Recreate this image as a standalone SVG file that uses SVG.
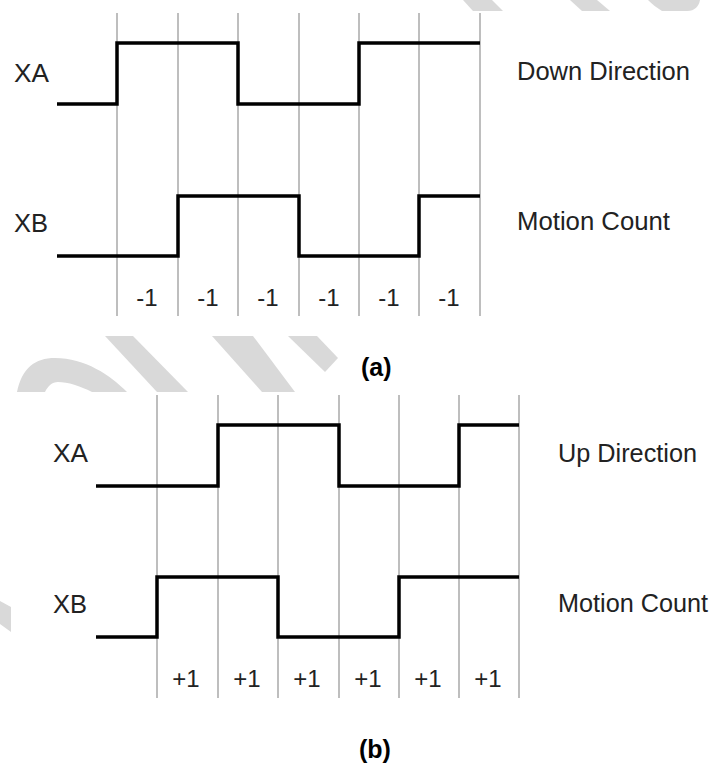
<svg xmlns="http://www.w3.org/2000/svg" width="713" height="765" viewBox="0 0 713 765">
<style>
.wm{fill:#d9d9d9;stroke:none}
.grid{stroke:#a8a8a8;stroke-width:1.5;fill:none}
.sig{stroke:#000;stroke-width:3.5;fill:none;stroke-linejoin:miter;stroke-linecap:butt}
.lbl{font-family:"Liberation Sans",Arial,sans-serif;font-size:25px;fill:#222}
.cnt{font-family:"Liberation Sans",Arial,sans-serif;font-size:24px;fill:#222;text-anchor:middle}
.cap{font-family:"Liberation Sans",Arial,sans-serif;font-size:25px;font-weight:bold;fill:#000}
</style>
<rect width="713" height="765" fill="#fff"/>
<g id="watermark">
<polygon class="wm" points="463,0 492,0 503,11 473,11"/>
<polygon class="wm" points="570,0 597,0 610,11 582,11"/>
<path class="wm" d="M648,0 L700,0 C699,6 695,11 687,11 L662,11 C657,8 652,4 648,0 Z"/>
<path class="wm" d="M17,392 C22,368 35,358 55,358 C85,358 110,375 127,392 L92,392 C80,386 68,382 58,382 C52,382 48,386 45,392 Z"/>
<polygon class="wm" points="105,336 133,336 188,392 157,392"/>
<polygon class="wm" points="212,336 253,336 295,392 262,392"/>
<polygon class="wm" points="288,336 317,336 338,358 325,372"/>
<polygon class="wm" points="0,601 11,607 11,632 0,624"/>
</g>
<g id="diagram-a">
<g id="grid-a">
<line class="grid" x1="117" y1="13" x2="117" y2="316"/>
<line class="grid" x1="178" y1="13" x2="178" y2="316"/>
<line class="grid" x1="238" y1="13" x2="238" y2="316"/>
<line class="grid" x1="299" y1="13" x2="299" y2="316"/>
<line class="grid" x1="359" y1="13" x2="359" y2="316"/>
<line class="grid" x1="419" y1="13" x2="419" y2="316"/>
<line class="grid" x1="480" y1="13" x2="480" y2="316"/>
</g>
<g id="xa-a"><path class="sig" d="M57,104 H117 V43 H238 V104 H359 V43 H480"/><text class="lbl" x="14" y="82" textLength="35" lengthAdjust="spacingAndGlyphs">XA</text></g>
<g id="xb-a"><path class="sig" d="M57,256 H178 V196 H299 V256 H419 V196 H480"/><text class="lbl" x="14" y="232" textLength="34" lengthAdjust="spacingAndGlyphs">XB</text></g>
<text class="lbl" x="517" y="80" textLength="173" lengthAdjust="spacingAndGlyphs">Down Direction</text>
<text class="lbl" x="517" y="230" textLength="153" lengthAdjust="spacingAndGlyphs">Motion Count</text>
<g id="counts-a">
<text class="cnt" x="147" y="306">-1</text>
<text class="cnt" x="208" y="306">-1</text>
<text class="cnt" x="268" y="306">-1</text>
<text class="cnt" x="329" y="306">-1</text>
<text class="cnt" x="389" y="306">-1</text>
<text class="cnt" x="449" y="306">-1</text>
</g>
<text class="cap" x="361" y="376">(a)</text>
</g>
<g id="diagram-b">
<g id="grid-b">
<line class="grid" x1="157" y1="395" x2="157" y2="698"/>
<line class="grid" x1="218" y1="395" x2="218" y2="698"/>
<line class="grid" x1="278" y1="395" x2="278" y2="698"/>
<line class="grid" x1="339" y1="395" x2="339" y2="698"/>
<line class="grid" x1="399" y1="395" x2="399" y2="698"/>
<line class="grid" x1="459" y1="395" x2="459" y2="698"/>
<line class="grid" x1="519" y1="395" x2="519" y2="698"/>
</g>
<g id="xa-b"><path class="sig" d="M96,486 H218 V425 H339 V486 H459 V425 H519"/><text class="lbl" x="53" y="462" textLength="35" lengthAdjust="spacingAndGlyphs">XA</text></g>
<g id="xb-b"><path class="sig" d="M96,637 H157 V577 H278 V637 H399 V577 H519"/><text class="lbl" x="53" y="613" textLength="34" lengthAdjust="spacingAndGlyphs">XB</text></g>
<text class="lbl" x="558" y="462" textLength="139" lengthAdjust="spacingAndGlyphs">Up Direction</text>
<text class="lbl" x="558" y="612" textLength="150" lengthAdjust="spacingAndGlyphs">Motion Count</text>
<g id="counts-b">
<text class="cnt" x="186" y="687">+1</text>
<text class="cnt" x="247" y="687">+1</text>
<text class="cnt" x="307" y="687">+1</text>
<text class="cnt" x="368" y="687">+1</text>
<text class="cnt" x="428" y="687">+1</text>
<text class="cnt" x="488" y="687">+1</text>
</g>
<text class="cap" x="359" y="758">(b)</text>
</g>
</svg>
